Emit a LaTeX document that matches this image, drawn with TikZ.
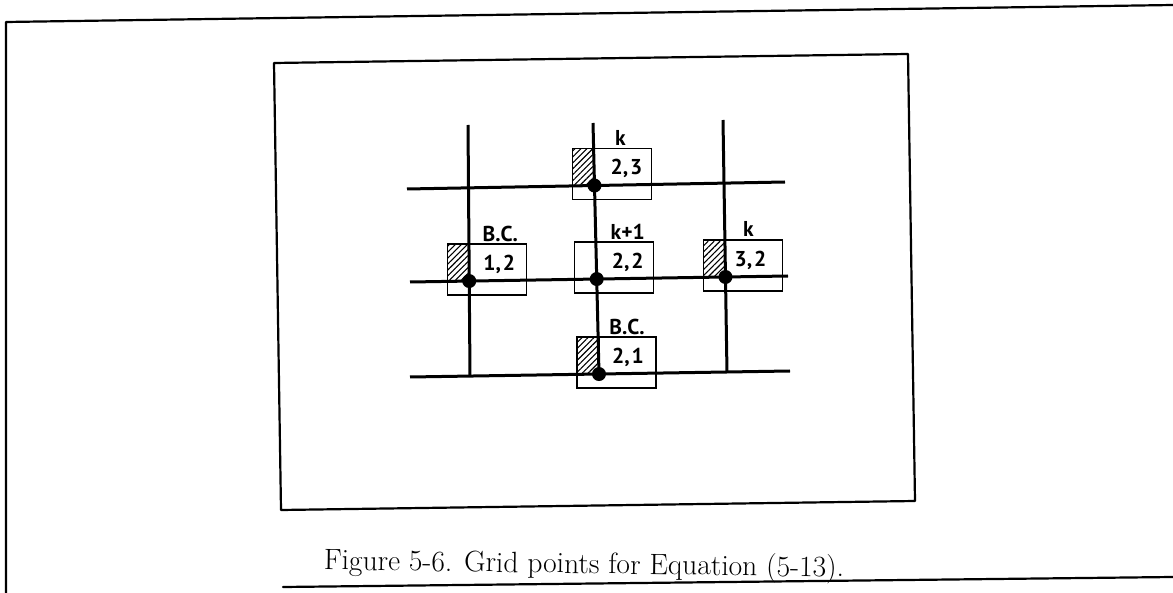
\documentclass[tikz,border=0pt]{standalone}
\usepackage{fontspec}
\newfontfamily\labfont{PT Sans}
\usetikzlibrary{calc,patterns.meta}
\begin{document}
\begin{tikzpicture}[x=1pt,y=-1pt,
  frame/.style={line width=2.2pt,line cap=round,line join=round},
  gridline/.style={line width=3pt},
  gbox/.style={draw,line width=1.4pt,minimum width=79pt,minimum height=51pt,inner sep=0pt},
  hatch/.style={draw,line width=1.4pt,pattern={Lines[angle=45,distance=4.2pt,line width=1.1pt]}},
  dot/.style={circle,fill,inner sep=0pt,minimum size=14pt},
  lab/.style={font=\labfont\bfseries\fontsize{21.5}{24}\selectfont,inner sep=0pt},
  captext/.style={font=\fontsize{29.5}{33}\selectfont,inner sep=0pt}]
\useasboundingbox (0,0) rectangle (1173,593);
% frames
\draw[frame] (6,593) -- (6,22) -- (1173,5);
\draw[frame] (283,587) -- (1173,577);
\draw[frame] (274,63) -- (908,54) -- (915,501) -- (281,510) -- cycle;
% grid line ends
\coordinate (h1a) at (407,189); \coordinate (h1b) at (785,182);
\coordinate (h2a) at (410,282); \coordinate (h2b) at (788,276);
\coordinate (h3a) at (410,377); \coordinate (h3b) at (790,371);
\coordinate (v1a) at (468,125); \coordinate (v1b) at (470,376);
\coordinate (v2a) at (593,123); \coordinate (v2b) at (599,374);
\coordinate (v3a) at (723,120); \coordinate (v3b) at (727,373);
% grid points
\coordinate (p12) at (intersection of v1a--v1b and h2a--h2b);
\coordinate (p23) at (intersection of v2a--v2b and h1a--h1b);
\coordinate (p22) at (intersection of v2a--v2b and h2a--h2b);
\coordinate (p32) at (intersection of v3a--v3b and h2a--h2b);
\coordinate (p21) at (intersection of v2a--v2b and h3a--h3b);
% boxes
\foreach \p in {p12,p23,p22,p32,p21}{
  \node[gbox] (box\p) at ($(\p)+(17.5,-11.5)$) {};
}
\foreach \p in {p12,p23,p32,p21}{
  \path[hatch] ($(\p)+(-22,-37)$) rectangle (\p);
}
% grid lines
\draw[gridline] (h1a) -- (h1b);
\draw[gridline] (h2a) -- (h2b);
\draw[gridline] (h3a) -- (h3b);
\draw[gridline] (v1a) -- (v1b);
\draw[gridline] (v2a) -- (v2b);
\draw[gridline] (v3a) -- (v3b);
% dots
\foreach \p in {p12,p23,p22,p32,p21}{
  \node[dot] (dot\p) at (\p) {};
}
% labels
\node[lab] (l12) at ($(p12)+(30,-17)$) {1,\kern2pt2};
\node[lab] (l23) at ($(p23)+(32,-17)$) {2,\kern2pt3};
\node[lab] (l22) at ($(p22)+(31,-17)$) {2,\kern2pt2};
\node[lab] (l32) at ($(p32)+(25,-17)$) {3,\kern2pt2};
\node[lab] (l21) at ($(p21)+(29,-17)$) {2,\kern2pt1};
\node[lab] (t12) at ($(p12)+(31,-47)$) {B.C.};
\node[lab] (t23) at ($(p23)+(26,-48)$) {k};
\node[lab] (t22) at ($(p22)+(31,-47)$) {k+1};
\node[lab] (t32) at ($(p32)+(23,-48)$) {k};
\node[lab] (t21) at ($(p21)+(28,-47)$) {B.C.};
% caption
\node[captext,rotate=-0.8] (caption) at (584,566) {Figure 5-6. Grid points for Equation (5-13).};
\end{tikzpicture}
\end{document}
